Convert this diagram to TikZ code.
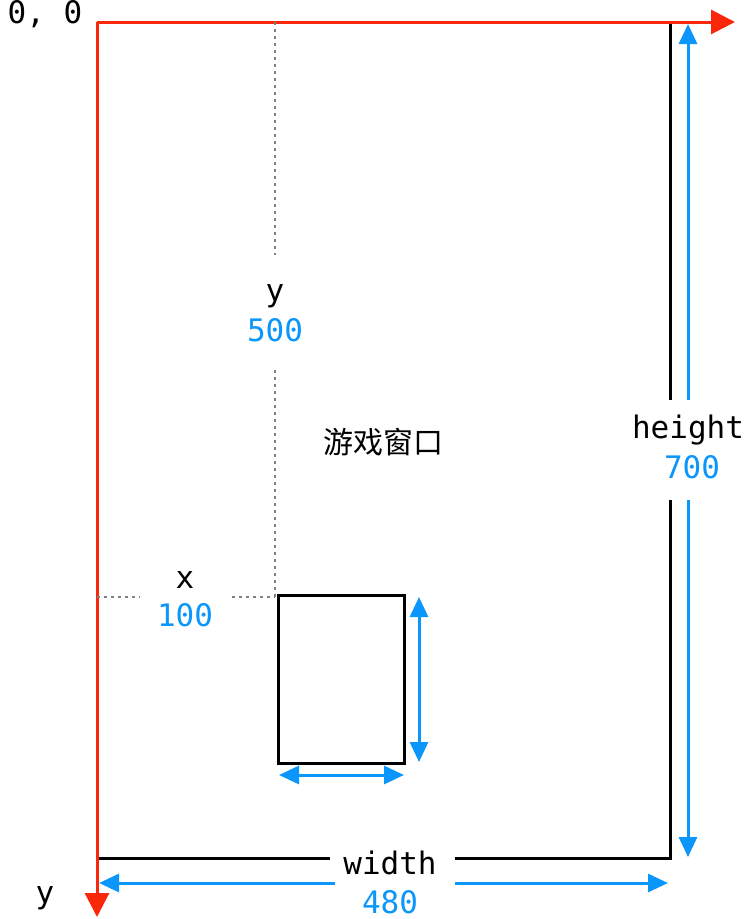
\documentclass[tikz,border=0pt]{standalone}
\usepackage{fontspec}
\setmonofont{DejaVu Sans Mono}
\newfontfamily\cjk{Noto Sans CJK SC}
\usetikzlibrary{arrows.meta}
\definecolor{axred}{RGB}{250,40,10}
\definecolor{dimblue}{RGB}{10,150,250}
\tikzset{
 lbl/.style={font=\fontsize{31}{31}\selectfont\ttfamily},
 num/.style={lbl,text=dimblue},
 axis/.style={axred,line width=3pt,-{Triangle[length=24pt,width=24pt]}},
 dim/.style={dimblue,line width=3pt,{Triangle[length=20pt,width=18pt]}-{Triangle[length=20pt,width=18pt]}},
 dimend/.style={dimblue,line width=3pt,-{Triangle[length=20pt,width=18pt]}},
 win/.style={black,line width=3pt},
 guide/.style={gray,line width=2.2pt,dash pattern=on 3pt off 4pt}
}
\begin{document}
\begin{tikzpicture}[x=1pt,y=-1pt]
\useasboundingbox (0,0) rectangle (745,919);
\clip (0,0) rectangle (745,919);
\coordinate (O) at (97,22);
\coordinate (XE) at (735,22);
\coordinate (YE) at (97,917);
% window
\coordinate (TR) at (670,22);
\coordinate (BR) at (670,858);
\coordinate (BL) at (97,858);
\draw[win] (TR) -- (670,400);
\draw[win] (670,500) -- (BR) -- (455,858);
\draw[win] (330,858) -- (BL);
% axes
\draw[axis] (O) -- (XE);
\draw[axis] (O) -- (YE);
\node[lbl] (orig) at (45,14) {0, 0};
\node[lbl] (xl) at (712,-8) {x};
\node[lbl] (yl) at (45,898) {y};
% height dim
\coordinate (h1) at (688,24);
\coordinate (h2) at (688,857);
\draw[dimend] (688,400) -- (h1);
\draw[dimend] (688,500) -- (h2);
\node[lbl,fill=white,inner sep=1pt] (hl) at (688,430) {height};
\node[num] (hn) at (692,467) {700};
% width dim
\coordinate (w1) at (99,883);
\coordinate (w2) at (668,883);
\draw[dimend] (335,883) -- (w1);
\draw[dimend] (455,883) -- (w2);
\node[lbl] (wl) at (390,863) {width};
\node[num] (wn) at (390,902) {480};
% guides
\draw[guide] (275,22) -- (275,255);
\draw[guide] (275,370) -- (275,597);
\node[lbl] (gy) at (275,296) {y};
\node[num] (gyn) at (275,330) {500};
\draw[guide] (97,597) -- (140,597);
\draw[guide] (232,597) -- (275,597);
\node[lbl] (gx) at (185,580) {x};
\node[num] (gxn) at (185,615) {100};
% sprite
\node[draw,win,minimum width=126pt,minimum height=168pt,inner sep=0,anchor=north west] (spr) at (277,594) {};
\draw[dim] ([xshift=13pt,yshift=-3pt]spr.north east) -- ([xshift=13pt,yshift=3pt]spr.south east);
\draw[dim] ([xshift=2pt,yshift=-10pt]spr.south west) -- ([xshift=-2pt,yshift=-10pt]spr.south east);
\node[font=\fontsize{30}{30}\selectfont\cjk] (title) at (383,442) {游戏窗口};
\end{tikzpicture}
\end{document}
